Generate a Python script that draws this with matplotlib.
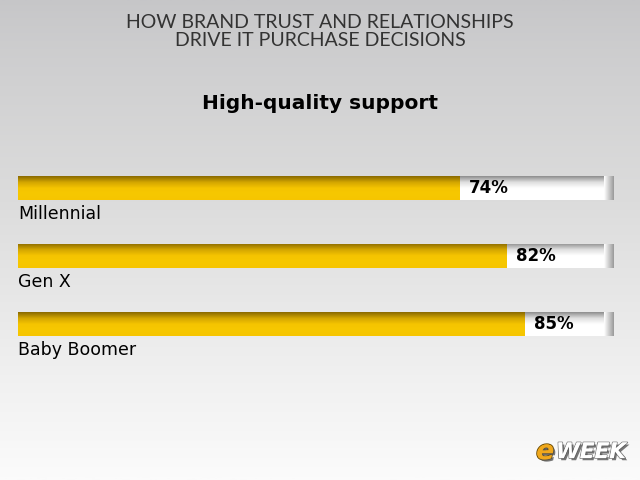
import numpy as np
import matplotlib
matplotlib.use("Agg")
import matplotlib.pyplot as plt
import matplotlib.patheffects as pe
from matplotlib.colors import LinearSegmentedColormap

header = "HOW BRAND TRUST AND RELATIONSHIPS\nDRIVE IT PURCHASE DECISIONS"
title = "High-quality support"
groups = ["Millennial", "Gen X", "Baby Boomer"]
values = [74, 82, 85]

fig = plt.figure(figsize=(6.4, 4.8), dpi=100)

# background gradient, gray at top fading to white
bg = fig.add_axes([0, 0, 1, 1], zorder=0)
grad = np.linspace(0, 1, 256).reshape(-1, 1) ** 0.8
bg_cmap = LinearSegmentedColormap.from_list("bg", ["#c6c6c8", "#dcdcdc", "#fbfbfb"])
bg.imshow(grad, aspect="auto", cmap=bg_cmap, extent=[0, 1, 0, 1], origin="upper")
bg.set_axis_off()

fig.text(0.5, 0.934, header, ha="center", va="center", fontsize=14,
         color="#333333", family="Lato", fontweight="normal", linespacing=1.1)
fig.text(0.5, 0.785, title, ha="center", va="center", fontsize=14.5,
         color="black", family="DejaVu Sans", fontweight="bold")

# bars axes: x spans 18px..614px, y unit = 68px, first bar centre at 188px
top_px, bot_px = 160, 360
ax = fig.add_axes([18 / 640, 1 - bot_px / 480, 596 / 640, (bot_px - top_px) / 480], zorder=1)
ax.set_axis_off()

bh = 24 / 68
ypos = np.arange(len(groups))
yellow_cmap = LinearSegmentedColormap.from_list(
    "yel", ["#8a6a00", "#d2a500", "#f5c400", "#f7c800", "#f6c500"])
white_cmap = LinearSegmentedColormap.from_list(
    "wht", ["#8e8e8e", "#dedede", "#ffffff", "#ffffff", "#ffffff"])
vgrad = np.linspace(0, 1, 64).reshape(-1, 1)

for y, v, g in zip(ypos, values, groups):
    track = ax.barh(y, 100, height=bh, color="white", edgecolor="none")[0]
    im = ax.imshow(vgrad, aspect="auto", cmap=white_cmap,
                   extent=[0, 100, y + bh / 2, y - bh / 2], zorder=2)
    im.set_clip_path(track)
    # shading at the right end of the track
    end = ax.barh(y, 1.6, left=98.4, height=bh, color="none", edgecolor="none")[0]
    hg = np.linspace(0, 1, 32).reshape(1, -1)
    im2 = ax.imshow(hg, aspect="auto", cmap=LinearSegmentedColormap.from_list(
        "edge", ["#ffffff", "#9a9a9a"]), extent=[98.4, 100, y + bh / 2, y - bh / 2], zorder=2.5)
    im2.set_clip_path(end)
    bar = ax.barh(y, v, height=bh, color="#f5c300", edgecolor="none", zorder=3)[0]
    im3 = ax.imshow(vgrad, aspect="auto", cmap=yellow_cmap,
                    extent=[0, v, y + bh / 2, y - bh / 2], zorder=3.5)
    im3.set_clip_path(bar)
    ax.text(v + 1.6, y, f"{v}%", ha="left", va="center", fontsize=12,
            fontweight="bold", color="black", zorder=5)
    ax.text(0, y + bh / 2 + 0.08, g, ha="left", va="top", fontsize=12.5,
            color="black", zorder=5)

ax.set_xlim(0, 100)
ax.set_ylim((bot_px - 188) / 68, (top_px - 188) / 68)

# eWEEK logo
shadow = [pe.withSimplePatchShadow(offset=(1.5, -1.5), shadow_rgbFace="#555555", alpha=0.8)]
fig.text(0.838, 0.058, "e", fontsize=19, fontweight="bold", style="italic",
         color="#f0a81c", ha="left", va="center",
         path_effects=[pe.withStroke(linewidth=1.5, foreground="#6b4a00")] + shadow)
fig.text(0.869, 0.058, "WEEK", fontsize=15.5, fontweight="bold", style="italic",
         color="white", ha="left", va="center",
         path_effects=[pe.withStroke(linewidth=1.2, foreground="#777777")] + shadow)

fig.savefig("out.png", dpi=100)
